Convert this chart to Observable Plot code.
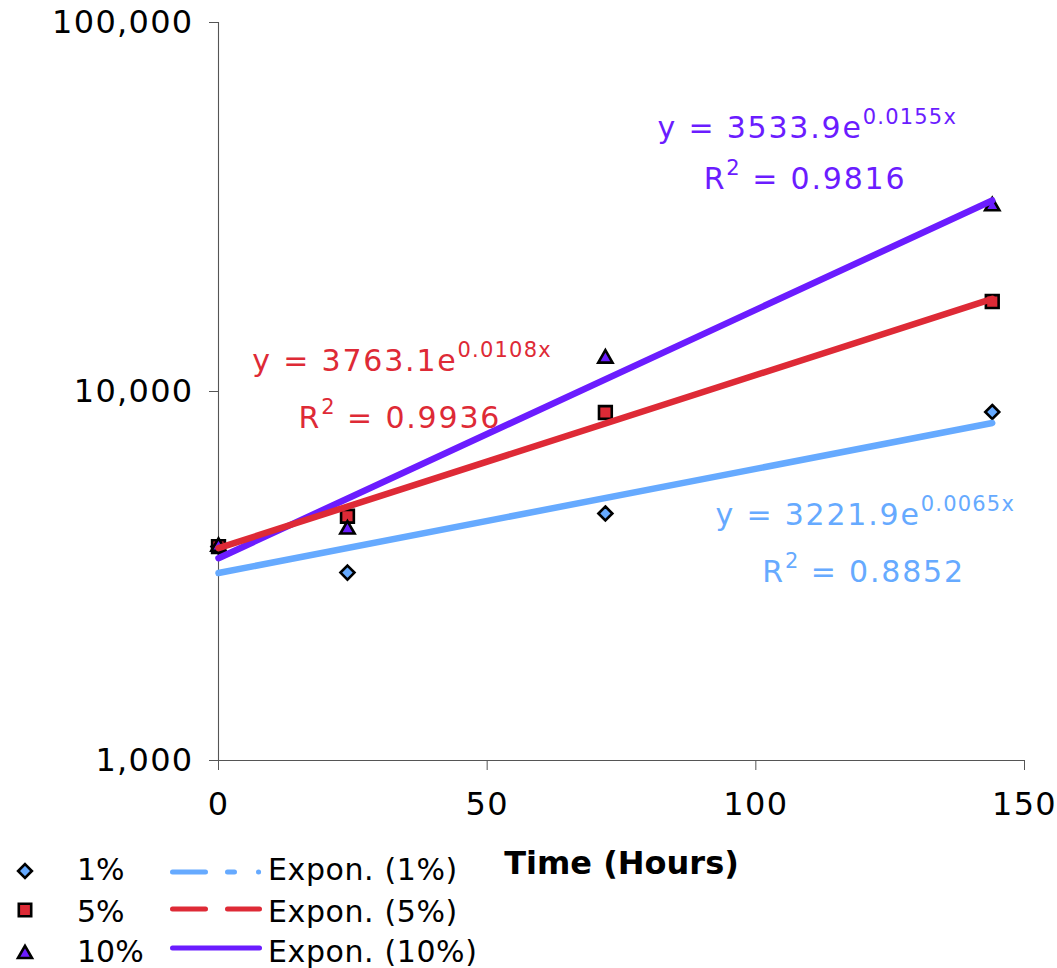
<!DOCTYPE html>
<html><head><meta charset="utf-8">
<script src="https://cdn.jsdelivr.net/npm/d3@7"></script>
<script src="https://cdn.jsdelivr.net/npm/@observablehq/plot@0.6"></script>
<style>
body{margin:0;background:#fff;font-family:"DejaVu Sans",Verdana,sans-serif;}
#wrap{position:relative;width:1057px;height:968px;overflow:hidden;background:#fff;}
#legend{position:absolute;left:0;top:830px;}
</style></head><body><div id="wrap"></div>
<script>
// ---- data ----
const hours = [0, 24, 72, 144];
const series = ["1%", "5%", "10%"];
const counts1 = [3800, 3230, 4670, 8800];
const counts5 = [3800, 4590, 8770, 17530];
const counts10 = [3800, 4230, 12290, 31800];
// exponential trendlines (Excel): y = A e^(B x), evaluated at the first and last hour
const trendA = [3221.9, 3763.1, 3533.9];
const trendB = ["0.0065", "0.0108", "0.0155"];
const trendR2 = ["0.8852", "0.9936", "0.9816"];
const trendHours = [0, 144];
const trendStart = [3221.9, 3763.1, 3533.9];
const trendEnd = [8215, 17822, 32933];
const yTicks = [1000, 10000, 100000];
const xTicks = [0, 50, 100, 150];
const colors = ["#66aaff", "#de2a36", "#6b1cff"];
// label placement (data units)
const eqX = [92.5, 6.3, 81.7], eqY = [4335, 11400, 48790];
const r2X = [101.2, 14.9, 90.3], r2Y = [3037, 7987, 35490];

const countsBySeries = [counts1, counts5, counts10];
const pts = countsBySeries.map((c, i) => hours.map((h, j) => ({series: series[i], hours: h, count: c[j]})));
const trends = series.map((s, i) => [
  {series: s, hours: trendHours[0], count: trendStart[i]},
  {series: s, hours: trendHours[1], count: trendEnd[i]}
]);
const labels = series.flatMap((s, i) => [
  {series: s, x: eqX[i], y: eqY[i], text: `y = ${trendA[i]}e^{${trendB[i]}x}`, color: colors[i]},
  {series: s, x: r2X[i], y: r2Y[i], text: `R^{2} = ${trendR2[i]}`, color: colors[i]}
]);

const font = "DejaVu Sans";
const chart = Plot.plot({
  width: 1057, height: 968,
  marginLeft: 218, marginRight: 33, marginTop: 22, marginBottom: 208,
  style: {fontFamily: font, fontSize: "32px", color: "#000", background: "#fff", overflow: "visible"},
  x: {domain: [0, 150]},
  y: {type: "log", domain: [1000, 100000]},
  marks: [
    Plot.ruleX([0], {y1: 1000, y2: 100000, stroke: "#555", strokeWidth: 1.1}),
    Plot.ruleY([1000], {x1: 0, x2: 150, stroke: "#555", strokeWidth: 1.1}),
    Plot.axisY({ticks: yTicks, tickFormat: d3.format(","), tickSize: 9, tickPadding: 16, fontSize: 32, label: null, stroke: "#555", fill: "#000"}),
    Plot.axisX({ticks: xTicks, tickFormat: d3.format("d"), tickSize: 10, tickPadding: 22, fontSize: 32, label: null, stroke: "#555", fill: "#000"}),
    Plot.text(["Time (Hours)"], {frameAnchor: "bottom", dy: 113, lineAnchor: "bottom", fontWeight: "bold", fontSize: 32, fill: "#000"}),
    Plot.dot(pts[0], {x: "hours", y: "count", symbol: "diamond2", r: 6.3, fill: colors[0], stroke: "#000", strokeWidth: 2.6}),
    Plot.dot(pts[1], {x: "hours", y: "count", symbol: "square", r: 7.2, fill: colors[1], stroke: "#000", strokeWidth: 2.6}),
    Plot.dot(pts[2], {x: "hours", y: "count", symbol: "triangle", r: 5.3, fill: colors[2], stroke: "#000", strokeWidth: 2.6}),
    Plot.line(trends[0], {x: "hours", y: "count", stroke: colors[0], strokeWidth: 6.5}),
    Plot.line(trends[2], {x: "hours", y: "count", stroke: colors[2], strokeWidth: 6.5}),
    Plot.line(trends[1], {x: "hours", y: "count", stroke: colors[1], strokeWidth: 6.5}),
    Plot.text(labels, {x: "x", y: "y", text: "text", fill: "color", textAnchor: "start", lineAnchor: "bottom", fontSize: 30})
  ]
});

// superscripts and letter spacing
chart.querySelectorAll("text").forEach(t => {
  const m = t.textContent.match(/^(.*)\^\{(.*?)\}(.*)$/);
  if (m) {
    t.textContent = "";
    t.style.letterSpacing = "1.8px";
    const ns = "http://www.w3.org/2000/svg";
    const a = document.createElementNS(ns, "tspan"); a.textContent = m[1]; t.appendChild(a);
    const b = document.createElementNS(ns, "tspan"); b.textContent = m[2];
    b.setAttribute("font-size", "21"); b.setAttribute("dy", "-14"); b.style.letterSpacing = "1.2px"; t.appendChild(b);
    if (m[3]) { const c = document.createElementNS(ns, "tspan"); c.textContent = m[3]; c.setAttribute("dy", "14"); t.appendChild(c); }
  }
});
chart.querySelectorAll("g[aria-label='y-axis tick label'] text, g[aria-label='x-axis tick label'] text").forEach(t => t.style.letterSpacing = "1.3px");

const wrap = document.getElementById("wrap");
wrap.appendChild(chart);

// legend
const legendItems = [
  {label: series[0], trend: "Expon. (1%)", color: colors[0], symbol: d3.symbolDiamond2, size: 6.2, dash: "33 22 7 24 0.1 200"},
  {label: series[1], trend: "Expon. (5%)", color: colors[1], symbol: d3.symbolSquare, size: 7, dash: "33 22 32 200"},
  {label: series[2], trend: "Expon. (10%)", color: colors[2], symbol: d3.symbolTriangle, size: 5.2, dash: null}
];
const lg = d3.create("svg").attr("id", "legend").attr("width", 520).attr("height", 138)
  .style("font-family", font);
const rowY = [42, 79, 118];
const textY = [50, 92, 132];
const symY = [41, 80, 124];
legendItems.forEach((d, i) => {
  lg.append("path").attr("transform", `translate(25,${symY[i]})`)
    .attr("d", d3.symbol(d.symbol, Math.PI * d.size * d.size)())
    .attr("fill", d.color).attr("stroke", "#000").attr("stroke-width", 2.6);
  lg.append("text").attr("x", 77).attr("y", textY[i]).attr("font-size", 30).attr("fill", "#000").text(d.label);
  const ln = lg.append("line").attr("x1", 172.5).attr("x2", 259.5).attr("y1", rowY[i]).attr("y2", rowY[i])
    .attr("stroke", d.color).attr("stroke-width", 5).attr("stroke-linecap", "round");
  if (d.dash) ln.attr("stroke-dasharray", d.dash);
  lg.append("text").attr("x", 268).attr("y", textY[i]).attr("font-size", 30).attr("fill", "#000").style("letter-spacing", "0.6px").text(d.trend);
});
wrap.appendChild(lg.node());
</script></body></html>
